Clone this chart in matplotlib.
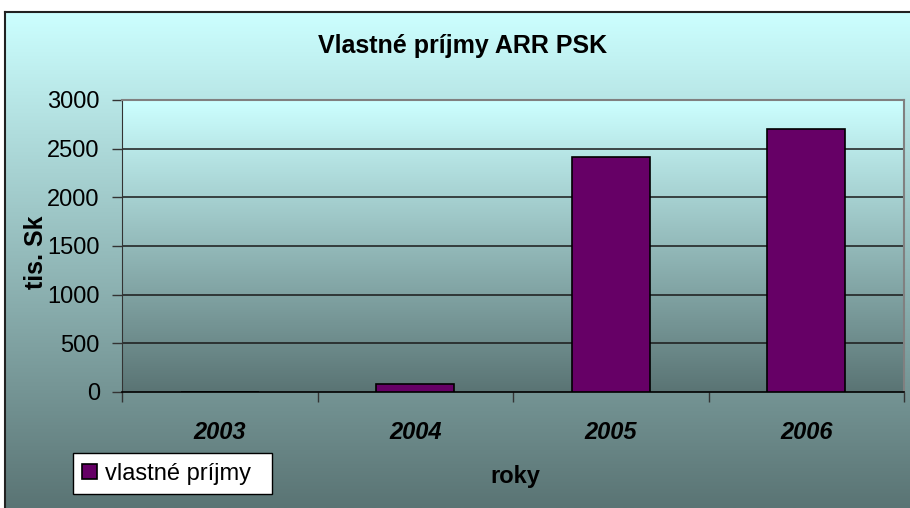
import numpy as np
import matplotlib
matplotlib.use("Agg")
import matplotlib.pyplot as plt
from matplotlib.colors import LinearSegmentedColormap

# data
years = ["2003", "2004", "2005", "2006"]
prijmy = [0, 80, 2410, 2700]
yticks = [0, 500, 1000, 1500, 2000, 2500, 3000]

title = "Vlastné príjmy ARR PSK"
ylabel = "tis. Sk"
xlabel = "roky"
series_name = "vlastné príjmy"

plt.rcParams["font.family"] = ["Liberation Sans", "DejaVu Sans"]

W, H = 910, 508
fig = plt.figure(figsize=(W / 100, H / 100), dpi=100)
fig.patch.set_facecolor("white")

grad = LinearSegmentedColormap.from_list("bg", ["#ccffff", "#5a7474"])

# chart area background (gradient, border on top and left)
bg = fig.add_axes([5 / W, 0, 1 - 5 / W, (H - 12) / H], zorder=-10)
bg.imshow(np.linspace(0, 1, 256).reshape(-1, 1), cmap=grad, aspect="auto",
          extent=[0, 1, 0, 1], origin="upper")
bg.set_xlim(0, 1)
bg.set_ylim(0, 1)
bg.set_xticks([])
bg.set_yticks([])
for s in ["right", "bottom"]:
    bg.spines[s].set_visible(False)
for s in ["top", "left"]:
    bg.spines[s].set_color("#222222")
    bg.spines[s].set_linewidth(1.5)

# plot area
ax = fig.add_axes([122 / W, (H - 392) / H, 782 / W, 292 / H])
x = np.arange(len(years))
ax.imshow(np.linspace(0, 1, 256).reshape(-1, 1), cmap=grad, aspect="auto",
          extent=[-0.5, 3.5, 0, 3000], origin="upper", zorder=0)
ax.set_xlim(-0.5, 3.5)
ax.set_ylim(0, 3000)

for v in yticks[1:]:
    ax.axhline(v, color="#1a1a1a", lw=1.1, zorder=1)

ax.bar(x, prijmy, width=0.4, color="#660066", edgecolor="black",
       linewidth=1.2, zorder=3, label=series_name)

ax.set_yticks(yticks)
ax.set_yticklabels([str(v) for v in yticks], fontsize=17)
ax.tick_params(axis="y", length=7, width=1, color="#333333", pad=9)

ax.set_xticks([-0.5, 0.5, 1.5, 2.5, 3.5])
ax.set_xticklabels([])
ax.tick_params(axis="x", which="major", length=7, width=1, color="#333333")
ax.set_xticks(x, minor=True)
ax.set_xticklabels(years, minor=True, fontsize=17, fontweight="bold",
                   fontstyle="italic")
ax.tick_params(axis="x", which="minor", length=0, pad=21)

ax.spines["left"].set_color("#333333")
ax.spines["bottom"].set_color("black")
ax.spines["bottom"].set_linewidth(1.2)
for s in ["top", "right"]:
    ax.spines[s].set_color("#808080")
    ax.spines[s].set_linewidth(1.5)

fig.text(463 / W, 1 - 53 / H, title, fontsize=18, fontweight="bold",
         ha="center", va="baseline")
fig.text(36 / W, 1 - 252 / H, ylabel, fontsize=18, fontweight="bold",
         rotation=90, ha="center", va="center")
fig.text(515 / W, 1 - 483 / H, xlabel, fontsize=17, fontweight="bold",
         ha="center", va="baseline")

leg = ax.legend(loc="lower left", bbox_to_anchor=(73 / W, (H - 494) / H, 199 / W, 41 / H),
                bbox_transform=fig.transFigure, mode="expand", fontsize=17,
                frameon=True, fancybox=False, framealpha=1, borderpad=0.4,
                handlelength=0.6, handleheight=0.6, handletextpad=0.35,
                borderaxespad=0)
leg.get_frame().set_edgecolor("black")
leg.get_frame().set_linewidth(1)

fig.savefig("out.png", dpi=100)
